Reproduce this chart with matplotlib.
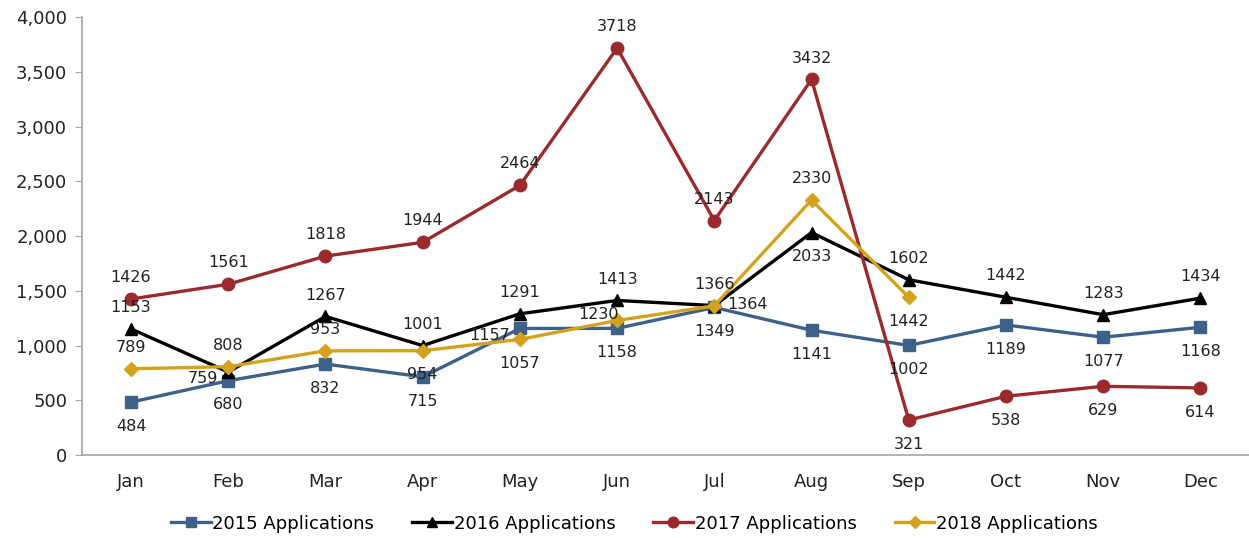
import numpy as np
import matplotlib
matplotlib.use("Agg")
import matplotlib.pyplot as plt
from matplotlib.ticker import FuncFormatter

months = ["Jan", "Feb", "Mar", "Apr", "May", "Jun",
          "Jul", "Aug", "Sep", "Oct", "Nov", "Dec"]

apps_2015 = [484, 680, 832, 715, 1157, 1158, 1349, 1141, 1002, 1189, 1077, 1168]
apps_2016 = [1153, 759, 1267, 1001, 1291, 1413, 1366, 2033, 1602, 1442, 1283, 1434]
apps_2017 = [1426, 1561, 1818, 1944, 2464, 3718, 2143, 3432, 321, 538, 629, 614]
apps_2018 = [789, 808, 953, 954, 1057, 1230, 1364, 2330, 1442]

# where each data label sits relative to its point
# a=above, b=below, l=left, k=up-left, r=right
pos_2015 = list("bbbbl" + "bbbbbbb")
pos_2016 = list("alaaaaabaaaa")
pos_2017 = list("aaaaaaaabbbb")
pos_2018 = list("aaabbkrab")

series = [
    ("2015 Applications", apps_2015, pos_2015, "#3d6188", "s"),
    ("2016 Applications", apps_2016, pos_2016, "#000000", "^"),
    ("2017 Applications", apps_2017, pos_2017, "#9a2a2e", "o"),
    ("2018 Applications", apps_2018, pos_2018, "#d5a21f", "D"),
]

offsets = {
    "a": ((0, 10), "center", "bottom"),
    "b": ((0, -12), "center", "top"),
    "l": ((-7, -5), "right", "center"),
    "k": ((1, 4), "right", "center"),
    "r": ((9, 1), "left", "center"),
}

fig = plt.figure(figsize=(12.49, 5.38), dpi=100)
ax = fig.add_axes([0.066, 0.154, 0.934, 0.814])

x = np.arange(len(months))
for name, vals, pos, color, mk in series:
    xs = x[:len(vals)]
    ms = 7 if mk == "D" else 9
    ax.plot(xs, vals, color=color, lw=2.4, marker=mk, ms=ms,
            markeredgecolor=color, label=name, zorder=3)
    for xi, v, p in zip(xs, vals, pos):
        (dx, dy), ha, va = offsets[p]
        ax.annotate(str(v), (xi, v), xytext=(dx, dy), textcoords="offset points",
                    ha=ha, va=va, fontsize=11.5, color="#222222", zorder=4)

ax.set_xlim(-0.5, 11.5)
ax.set_ylim(0, 4000)
ax.set_yticks(np.arange(0, 4001, 500))
ax.yaxis.set_major_formatter(FuncFormatter(lambda v, _: f"{int(v):,}"))
ax.set_xticks(x)
ax.set_xticklabels(months)

for s in ["top", "right"]:
    ax.spines[s].set_visible(False)
for s in ["left", "bottom"]:
    ax.spines[s].set_color("#a6a6a6")
    ax.spines[s].set_linewidth(1.2)
ax.tick_params(axis="y", length=5, color="#a6a6a6", labelsize=13, labelcolor="#222222", pad=6)
ax.tick_params(axis="x", length=0, labelsize=13, labelcolor="#222222", pad=13)

fig.legend(loc="lower center", bbox_to_anchor=(0.508, -0.02), ncol=4, frameon=False,
           fontsize=13, handlelength=2.2, handletextpad=0.1, columnspacing=2.1,
           markerscale=0.85)

fig.savefig("out.png", dpi=100)
